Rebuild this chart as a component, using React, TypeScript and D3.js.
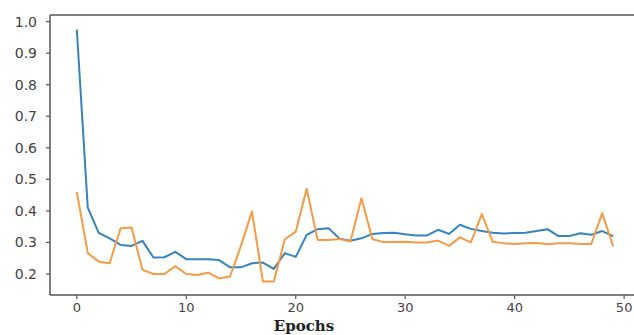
import { useMemo } from "react";
import * as d3 from "d3";

const WIDTH = 634;
const HEIGHT = 335;

const epochs = d3.range(0, 50);

const trainLoss = [
  0.975, 0.41, 0.33, 0.313, 0.292, 0.289, 0.305, 0.252, 0.253, 0.27,
  0.247, 0.247, 0.247, 0.244, 0.221, 0.221, 0.234, 0.236, 0.216, 0.266,
  0.254, 0.324, 0.342, 0.345, 0.312, 0.305, 0.313, 0.327, 0.33, 0.331,
  0.326, 0.322, 0.322, 0.34, 0.327, 0.356, 0.343, 0.336, 0.331, 0.328,
  0.33, 0.331, 0.336, 0.342, 0.32, 0.32, 0.329, 0.324, 0.336, 0.32,
];

const valLoss = [
  0.46, 0.266, 0.239, 0.234, 0.345, 0.347, 0.213, 0.2, 0.2, 0.225,
  0.2, 0.197, 0.204, 0.186, 0.192, 0.29, 0.398, 0.176, 0.176, 0.31,
  0.334, 0.47, 0.308, 0.308, 0.311, 0.303, 0.44, 0.311, 0.301, 0.301,
  0.302, 0.3, 0.3, 0.306, 0.289, 0.316, 0.3, 0.39, 0.302, 0.297,
  0.295, 0.297, 0.298, 0.294, 0.297, 0.297, 0.295, 0.295, 0.393, 0.287,
];

const xTicks = [0, 10, 20, 30, 40, 50];
const yTicks = [0.2, 0.3, 0.4, 0.5, 0.6, 0.7, 0.8, 0.9, 1.0];

const colors = ["#3584c0", "#f59a45"];

export default function App() {
  const left = 50;
  const right = 640;
  const top = 15;
  const bottom = 295;

  const x = useMemo(
    () => d3.scaleLinear().domain([-2.45, 51.45]).range([left, right]),
    []
  );
  const y = useMemo(
    () => d3.scaleLinear().domain([0.1333, 1.021]).range([bottom, top]),
    []
  );

  const lines = useMemo(() => {
    const gen = d3
      .line<number>()
      .x((_, i) => x(epochs[i]))
      .y((d) => y(d));
    return [gen(trainLoss), gen(valLoss)];
  }, [x, y]);

  const axisColor = "#555";
  const tickColor = "#444";

  return (
    <svg
      width={WIDTH}
      height={HEIGHT}
      style={{ position: "absolute", left: 0, top: 0, background: "#fff" }}
    >
      <defs>
        <clipPath id="plot">
          <rect x={left} y={top} width={right - left} height={bottom - top} />
        </clipPath>
      </defs>

      {/* spines */}
      <line x1={left} x2={left} y1={top} y2={bottom} stroke={axisColor} strokeWidth={1.5} />
      <line x1={left} x2={WIDTH} y1={bottom} y2={bottom} stroke={axisColor} strokeWidth={1.5} />
      <line x1={left} x2={WIDTH} y1={top} y2={top} stroke={axisColor} strokeWidth={1.5} />

      {/* y ticks */}
      {yTicks.map((t) => (
        <g key={t} transform={`translate(${left},${y(t)})`}>
          <line x1={-4} x2={0} stroke={axisColor} strokeWidth={1.2} />
          <text
            x={-13}
            dy="0.35em"
            textAnchor="end"
            fontFamily="DejaVu Sans, sans-serif"
            fontSize={14}
            fill={tickColor}
          >
            {t.toFixed(1)}
          </text>
        </g>
      ))}

      {/* x ticks */}
      {xTicks.map((t) => (
        <g key={t} transform={`translate(${x(t)},${bottom})`}>
          <line y1={0} y2={4} stroke={axisColor} strokeWidth={1.2} />
          <text
            y={17}
            textAnchor="middle"
            fontFamily="DejaVu Sans, sans-serif"
            fontSize={13}
            fill={tickColor}
          >
            {t}
          </text>
        </g>
      ))}

      <g clipPath="url(#plot)">
        {lines.map((d, i) => (
          <path
            key={i}
            d={d ?? ""}
            fill="none"
            stroke={colors[i]}
            strokeWidth={2}
            strokeLinejoin="round"
          />
        ))}
      </g>

      <text
        x={304}
        y={331}
        textAnchor="middle"
        fontFamily="DejaVu Serif, serif"
        fontSize={15}
        fontWeight={600}
        fill="#222"
      >
        Epochs
      </text>
    </svg>
  );
}
